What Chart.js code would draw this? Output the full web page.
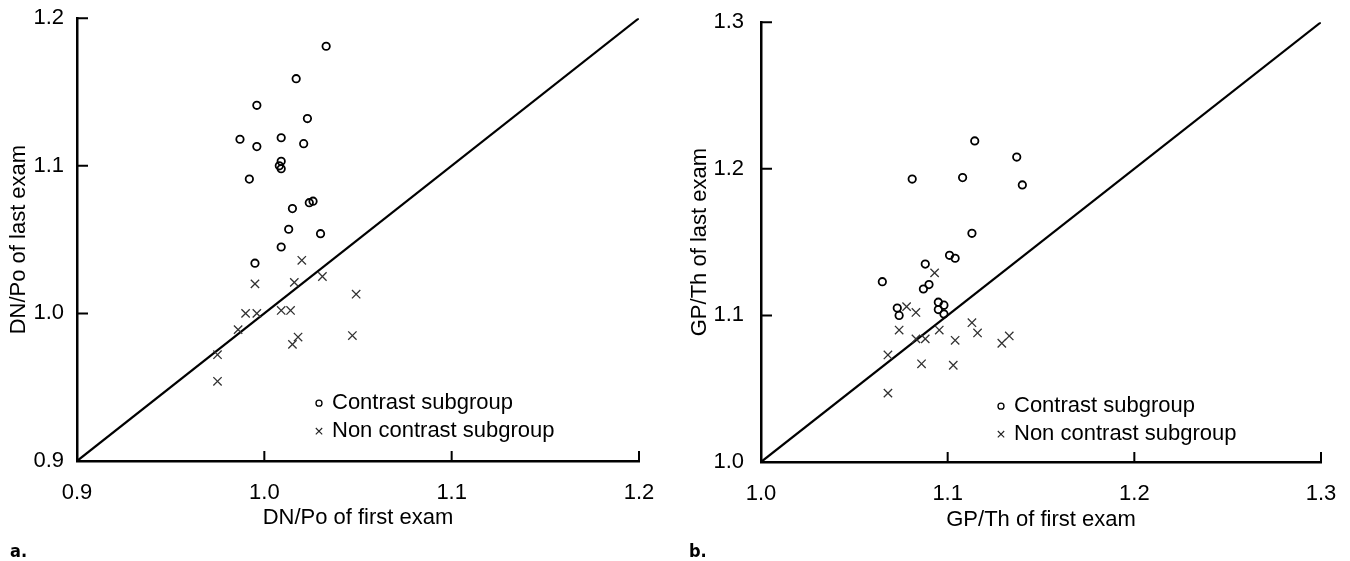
<!DOCTYPE html>
<html>
<head>
<meta charset="utf-8">
<script src="https://cdn.jsdelivr.net/npm/chart.js@4.4.1/dist/chart.umd.min.js"></script>
<style>
  html, body { margin: 0; padding: 0; background: #fff; }
  .panel { position: absolute; top: 0; width: 675px; height: 561px; }
  #panelA { left: 0; }
  #panelB { left: 675px; }
</style>
</head>
<body>
<div class="panel" id="panelA"><canvas id="chartA"></canvas></div>
<div class="panel" id="panelB"><canvas id="chartB"></canvas></div>
<script>
// panel a: DN/Po
var dnContrastFirst = [1.033, 1.017, 0.996, 1.023, 0.987, 1.009, 0.996, 1.021, 1.008, 1.009,
                       1.009, 0.992, 1.024, 1.026, 1.015, 1.013, 1.030, 1.009, 0.995];
var dnContrastLast  = [1.181, 1.159, 1.141, 1.132, 1.118, 1.119, 1.113, 1.115, 1.100, 1.103,
                       1.098, 1.091, 1.075, 1.076, 1.071, 1.057, 1.054, 1.045, 1.034];
var dnNonFirst = [1.020, 0.995, 1.016, 1.031, 1.049, 0.990, 0.996, 1.009, 1.014, 0.986,
                  1.018, 1.015, 1.047, 0.975, 0.975];
var dnNonLast  = [1.036, 1.020, 1.021, 1.025, 1.013, 1.000, 1.000, 1.002, 1.002, 0.989,
                  0.984, 0.979, 0.985, 0.972, 0.954];
var dnTicks = [0.9, 1.0, 1.1, 1.2];

// panel b: GP/Th
var gpContrastFirst = [1.1145, 1.137, 1.140, 1.081, 1.108, 1.113, 1.101, 1.104, 1.088,
                       1.065, 1.090, 1.087, 1.095, 1.098, 1.095, 1.098, 1.073, 1.074];
var gpContrastLast  = [1.219, 1.208, 1.189, 1.193, 1.194, 1.156, 1.141, 1.139, 1.135,
                       1.123, 1.121, 1.118, 1.109, 1.107, 1.104, 1.101, 1.105, 1.100];
var gpNonFirst = [1.093, 1.078, 1.083, 1.074, 1.0955, 1.083, 1.088, 1.113, 1.116, 1.104,
                  1.129, 1.133, 1.068, 1.086, 1.103, 1.068];
var gpNonLast  = [1.129, 1.106, 1.102, 1.090, 1.090, 1.084, 1.084, 1.095, 1.088, 1.083,
                  1.081, 1.086, 1.073, 1.067, 1.066, 1.047];
var gpTicks = [1.0, 1.1, 1.2, 1.3];

var legendLabels = ['Contrast subgroup', 'Non contrast subgroup'];

var FONT = '"Liberation Sans", Arial, Helvetica, sans-serif';

function pairs(xs, ys) {
  return xs.map(function (x, i) { return { x: x, y: ys[i] }; });
}

// inward tick marks, drawn from the scales
var innerTicks = {
  id: 'innerTicks',
  afterDraw: function (chart) {
    var ctx = chart.ctx, area = chart.chartArea;
    var xs = chart.scales.x, ys = chart.scales.y;
    ctx.save();
    ctx.strokeStyle = '#000';
    ctx.lineWidth = 2;
    ctx.beginPath();
    xs.ticks.forEach(function (t, i) {
      if (i === 0) return;
      var px = xs.getPixelForValue(t.value);
      ctx.moveTo(px, area.bottom);
      ctx.lineTo(px, area.bottom - 10);
    });
    ys.ticks.forEach(function (t, i) {
      if (i === 0) return;
      var py = ys.getPixelForValue(t.value);
      ctx.moveTo(area.left, py);
      ctx.lineTo(area.left + 11, py);
    });
    ctx.stroke();
    ctx.restore();
  }
};

// legend inside the plot + panel letter
var innerLegend = {
  id: 'innerLegend',
  afterDraw: function (chart, args, opts) {
    var ctx = chart.ctx, area = chart.chartArea;
    var mx = area.left + opts.dx, tx = mx + 13;
    var y1 = area.top + opts.dy, y2 = y1 + 28;
    ctx.save();
    ctx.strokeStyle = '#000';
    ctx.lineWidth = 1.3;
    ctx.beginPath();
    ctx.arc(mx, y1, 3, 0, Math.PI * 2);
    ctx.stroke();
    ctx.strokeStyle = '#222';
    ctx.lineWidth = 1.1;
    ctx.beginPath();
    ctx.moveTo(mx - 3.2, y2 - 3.2); ctx.lineTo(mx + 3.2, y2 + 3.2);
    ctx.moveTo(mx - 3.2, y2 + 3.2); ctx.lineTo(mx + 3.2, y2 - 3.2);
    ctx.stroke();
    ctx.fillStyle = '#000';
    ctx.font = '22px ' + FONT;
    ctx.textBaseline = 'middle';
    ctx.textAlign = 'left';
    ctx.fillText(legendLabels[0], tx, y1);
    ctx.fillText(legendLabels[1], tx, y2);
    ctx.font = 'bold 18px "Liberation Sans Narrow", "DejaVu Sans Condensed", sans-serif';
    ctx.textBaseline = 'alphabetic';
    ctx.fillText(opts.letter, opts.letterX, 557);
    ctx.restore();
  }
};

function makeChart(id, cfg) {
  var ctx = document.getElementById(id);
  return new Chart(ctx, {
    type: 'scatter',
    data: {
      datasets: [{
        label: legendLabels[0],
        data: pairs(cfg.cx, cfg.cy),
        pointStyle: 'circle',
        pointRadius: 3.7,
        borderColor: '#000',
        backgroundColor: 'rgba(0,0,0,0)',
        borderWidth: 1.8,
        order: 1
      }, {
        label: legendLabels[1],
        data: pairs(cfg.nx, cfg.ny),
        pointStyle: 'crossRot',
        pointRadius: 5.9,
        borderColor: '#333',
        borderWidth: 1.3,
        order: 1
      }, {
        label: 'identity',
        data: pairs([cfg.ticks[0], cfg.ticks[3]], [cfg.ticks[0], cfg.ticks[3]]),
        showLine: true,
        pointRadius: 0,
        borderColor: '#000',
        borderWidth: 2.2,
        order: 2
      }]
    },
    options: {
      responsive: false,
      animation: false,
      devicePixelRatio: 1,
      layout: { padding: cfg.pad },
      plugins: {
        legend: { display: false },
        tooltip: { enabled: false },
        innerLegend: cfg.legend
      },
      scales: {
        x: {
          type: 'linear',
          min: cfg.ticks[0],
          max: cfg.ticks[3],
          afterBuildTicks: function (s) { s.ticks = cfg.ticks.map(function (v) { return { value: v }; }); },
          afterFit: function (s) { s.height = cfg.xh; },
          grid: { display: false },
          border: { display: true, color: '#000', width: 2.5 },
          ticks: {
            padding: 11,
            color: '#000',
            font: { family: FONT, size: 22 },
            callback: function (v) { return Number(v).toFixed(1); }
          },
          title: {
            display: true,
            text: cfg.xTitle,
            color: '#000',
            font: { family: FONT, size: 22 },
            padding: { top: 0, bottom: 0 }
          }
        },
        y: {
          type: 'linear',
          min: cfg.ticks[0],
          max: cfg.ticks[3],
          afterBuildTicks: function (s) { s.ticks = cfg.ticks.map(function (v) { return { value: v }; }); },
          afterFit: function (s) { s.width = cfg.yw; },
          grid: { display: false },
          border: { display: true, color: '#000', width: 2.5 },
          ticks: {
            padding: cfg.yPad,
            color: '#000',
            font: { family: FONT, size: 22 },
            callback: function (v) { return Number(v).toFixed(1); }
          },
          title: {
            display: true,
            text: cfg.yTitle,
            color: '#000',
            font: { family: FONT, size: 22 },
            padding: { top: cfg.yTitlePad, bottom: 0 }
          }
        }
      }
    },
    plugins: [innerTicks, innerLegend]
  });
}

document.getElementById('chartA').width = 675;
document.getElementById('chartA').height = 561;
document.getElementById('chartB').width = 675;
document.getElementById('chartB').height = 561;

makeChart('chartA', {
  cx: dnContrastFirst, cy: dnContrastLast,
  nx: dnNonFirst, ny: dnNonLast,
  ticks: dnTicks,
  xTitle: 'DN/Po of first exam',
  yTitle: 'DN/Po of last exam',
  pad: { left: 0, right: 36, top: 18, bottom: 30 },
  xh: 70, yw: 77, yPad: 5, yTitlePad: 6,
  legend: { dx: 242, dy: 385, letter: 'a.', letterX: 10 }
});

makeChart('chartB', {
  cx: gpContrastFirst, cy: gpContrastLast,
  nx: gpNonFirst, ny: gpNonLast,
  ticks: gpTicks,
  xTitle: 'GP/Th of first exam',
  yTitle: 'GP/Th of last exam',
  pad: { left: 0, right: 29, top: 21, bottom: 28 },
  xh: 71, yw: 86, yPad: 9, yTitlePad: 12,
  legend: { dx: 240, dy: 384, letter: 'b.', letterX: 14 }
});
</script>
</body>
</html>
